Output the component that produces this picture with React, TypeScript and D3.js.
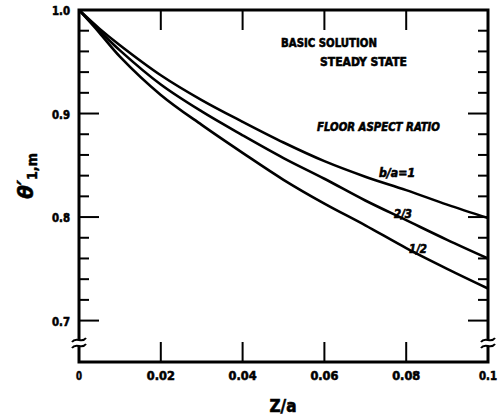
import React, { useEffect, useRef } from 'react';
import * as d3 from 'd3';

// Z/a positions
const zValues = [0, 0.005, 0.01, 0.02, 0.03, 0.04, 0.05, 0.06, 0.07, 0.08, 0.09, 0.1];
// theta'_{1,m} for each floor aspect ratio
const ratio1 = [1.0, 0.982, 0.966, 0.937, 0.913, 0.892, 0.872, 0.854, 0.839, 0.826, 0.812, 0.799];
const ratio23 = [1.0, 0.98, 0.961, 0.928, 0.902, 0.879, 0.857, 0.837, 0.816, 0.797, 0.778, 0.76];
const ratio12 = [1.0, 0.978, 0.955, 0.918, 0.889, 0.862, 0.836, 0.813, 0.792, 0.77, 0.75, 0.731];

const xTicks = [0, 0.02, 0.04, 0.06, 0.08, 0.1];
const xTickLabels = ['0', '0.02', '0.04', '0.06', '0.08', '0.1'];
const yMajor = [0.7, 0.8, 0.9, 1.0];
const yMajorLabels = ['0.7', '0.8', '0.9', '1.0'];
const yMinor = [0.72, 0.74, 0.76, 0.78, 0.82, 0.84, 0.86, 0.88, 0.92, 0.94, 0.96, 0.98];

const W = 502;
const H = 415;
const FONT = "'Liberation Sans Narrow', 'DejaVu Sans Condensed', 'Arial Narrow', sans-serif";

const App: React.FC = () => {
  const svgRef = useRef<SVGSVGElement>(null);

  useEffect(() => {
    if (!svgRef.current) return;
    const svg = d3.select(svgRef.current);
    svg.selectAll('*').remove();

    const left = 79, right = 488, top = 10, bottom = 362;
    const x = d3.scaleLinear().domain([0, 0.1]).range([left, right]);
    const y = d3.scaleLinear().domain([0.66, 1.0]).range([bottom, top]);

    const g = svg.append('g');

    // frame
    g.append('rect')
      .attr('x', left).attr('y', top)
      .attr('width', right - left).attr('height', bottom - top)
      .attr('fill', 'none').attr('stroke', '#000').attr('stroke-width', 3);

    // x ticks, bottom and top
    xTicks.slice(1, -1).forEach(t => {
      g.append('line').attr('x1', x(t)).attr('x2', x(t)).attr('y1', bottom).attr('y2', bottom - 20)
        .attr('stroke', '#000').attr('stroke-width', 2);
      g.append('line').attr('x1', x(t)).attr('x2', x(t)).attr('y1', top).attr('y2', top + 20)
        .attr('stroke', '#000').attr('stroke-width', 2);
    });

    // y ticks both sides
    yMajor.slice(0, -1).forEach(t => {
      g.append('line').attr('x1', left).attr('x2', left + 20).attr('y1', y(t)).attr('y2', y(t))
        .attr('stroke', '#000').attr('stroke-width', 2);
      g.append('line').attr('x1', right).attr('x2', right - 20).attr('y1', y(t)).attr('y2', y(t))
        .attr('stroke', '#000').attr('stroke-width', 2);
    });
    yMinor.forEach(t => {
      g.append('line').attr('x1', left).attr('x2', left + 10).attr('y1', y(t)).attr('y2', y(t))
        .attr('stroke', '#000').attr('stroke-width', 2);
      g.append('line').attr('x1', right).attr('x2', right - 10).attr('y1', y(t)).attr('y2', y(t))
        .attr('stroke', '#000').attr('stroke-width', 2);
    });

    // axis break marks
    [left, right].forEach(bx => {
      const by = 343;
      g.append('rect').attr('x', bx - 3).attr('y', by - 3).attr('width', 6).attr('height', 6).attr('fill', '#fff');
      [-3, 3].forEach(dy => {
        g.append('path')
          .attr('d', `M${bx - 7},${by + dy + 2} C${bx - 3},${by + dy - 4} ${bx + 3},${by + dy + 4} ${bx + 7},${by + dy - 2}`)
          .attr('fill', 'none').attr('stroke', '#000').attr('stroke-width', 2);
      });
    });

    // curves
    const line = d3.line<number>()
      .x((_, i) => x(zValues[i]))
      .y(d => y(d))
      .curve(d3.curveCatmullRom);
    [ratio1, ratio23, ratio12].forEach(series => {
      g.append('path').attr('d', line(series) || '')
        .attr('fill', 'none').attr('stroke', '#000').attr('stroke-width', 2.6);
    });

    const txt = (s: string, tx: number, ty: number, size: number, len: number, anchor = 'start', italic = false) =>
      g.append('text').attr('x', tx).attr('y', ty)
        .attr('font-family', FONT).attr('font-weight', 'bold')
        .attr('font-style', italic ? 'italic' : 'normal')
        .attr('font-size', size).attr('text-anchor', anchor)
        .attr('textLength', len).attr('lengthAdjust', 'spacingAndGlyphs')
        .attr('stroke', '#000').attr('stroke-width', 0.6)
        .attr('fill', '#000').text(s);

    // tick labels
    yMajor.forEach((t, i) => {
      txt(yMajorLabels[i], 70, y(t) + 5, 13, 18, 'end');
    });
    xTicks.forEach((t, i) => {
      const lab = xTickLabels[i];
      const len = lab.length === 1 ? 6 : lab.length === 3 ? 18 : 28;
      txt(lab, x(t), 380, 13, len, 'middle');
    });

    // axis titles
    txt('Z/a', 283, 412, 18, 27, 'middle');
    const yl = g.append('text')
      .attr('transform', 'translate(33,176) rotate(-90)')
      .attr('font-family', FONT).attr('font-weight', 'bold').attr('font-size', 22)
      .attr('stroke', '#000').attr('stroke-width', 0.5)
      .attr('text-anchor', 'middle').attr('fill', '#000');
    yl.append('tspan').attr('font-style', 'italic').text('θ\u2032');
    yl.append('tspan').attr('font-size', 14).attr('dy', 4).text('1,m');

    // annotations
    txt('BASIC SOLUTION', 281, 47, 13, 96);
    txt('STEADY STATE', 320, 66, 13, 87);
    txt('FLOOR ASPECT RATIO', 317, 131, 13, 123, 'start', true);
    txt('b/a=1', 379, 177, 12, 36, 'start', true);
    txt('2/3', 394, 218, 12, 18, 'start', true);
    txt('1/2', 409, 253, 12, 18, 'start', true);
  }, []);

  return (
    <svg ref={svgRef} width={W} height={H} viewBox={`0 0 ${W} ${H}`}
      style={{ position: 'absolute', left: 0, top: 0, background: '#fff' }} />
  );
};

export default App;
